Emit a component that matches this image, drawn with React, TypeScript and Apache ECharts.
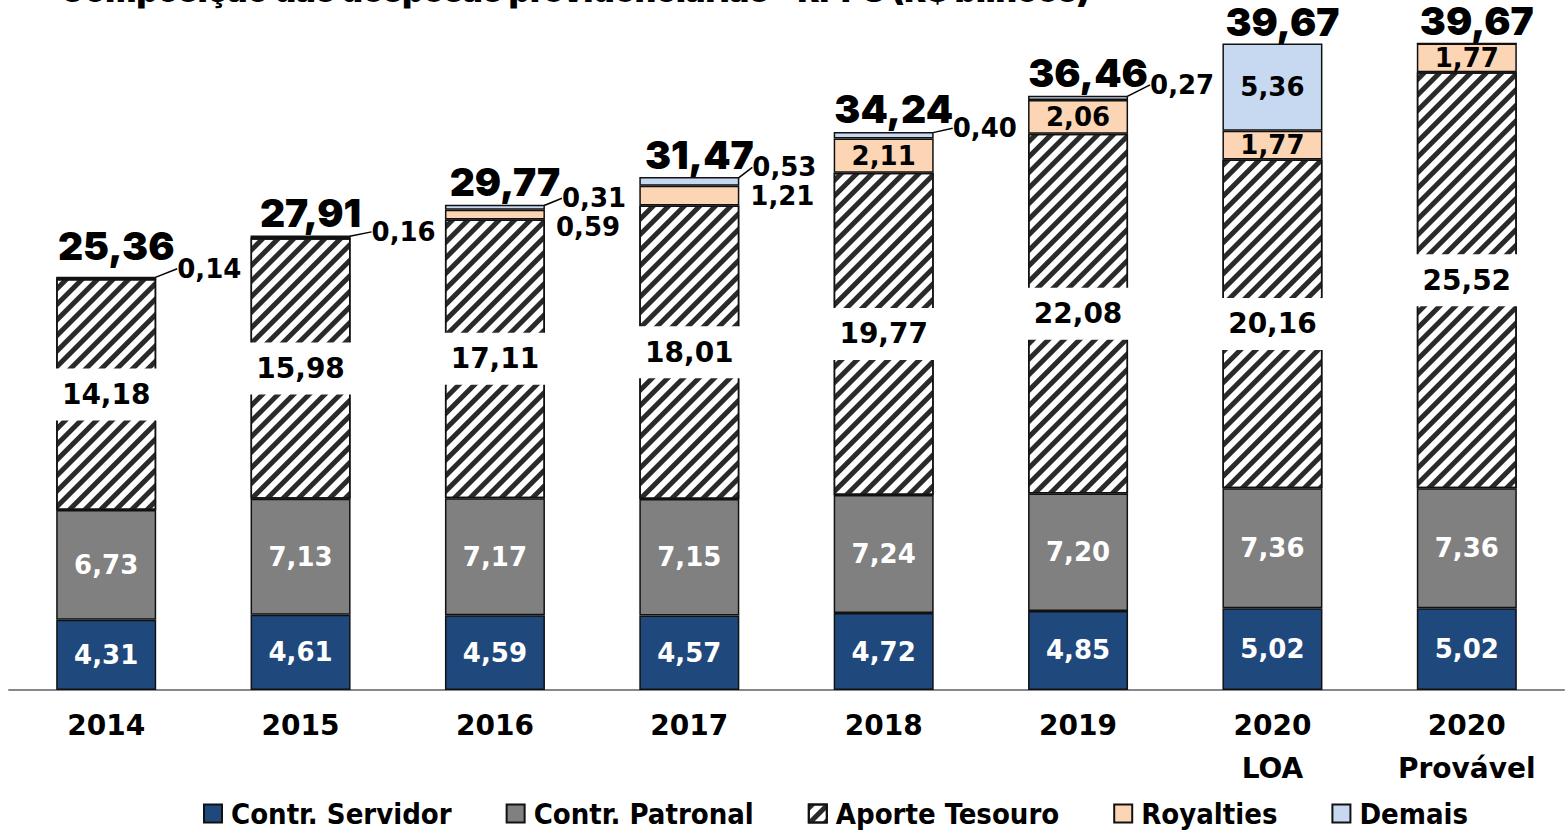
import React, { useEffect, useRef } from "react";
import * as echarts from "echarts";

const categories = ["2014", "2015", "2016", "2017", "2018", "2019", "2020\nLOA", "2020\nProvável"];
const servidor = [4.31, 4.61, 4.59, 4.57, 4.72, 4.85, 5.02, 5.02];
const patronal = [6.73, 7.13, 7.17, 7.15, 7.24, 7.2, 7.36, 7.36];
const aporte = [14.18, 15.98, 17.11, 18.01, 19.77, 22.08, 20.16, 25.52];
const royalties = [0, 0, 0.59, 1.21, 2.11, 2.06, 1.77, 1.77];
const demais = [0.14, 0.16, 0.31, 0.53, 0.4, 0.27, 5.36, 0];
const totals = [25.36, 27.91, 29.77, 31.47, 34.24, 36.46, 39.67, 39.67];
const seriesNames = ["Contr. Servidor", "Contr. Patronal", "Aporte Tesouro", "Royalties", "Demais"];
const titleText = "Composição das despesas previdenciárias - RPPS (R$ bilhões)";

// label offsets (layout only)
const demaisOffsets: Record<number, [number, number]> = {
  0: [16, -9], 1: [16, -5], 2: [12, -9], 3: [8, -14], 4: [14, -7], 5: [17, -13],
};
const royaltiesOffsets: Record<number, [number, number]> = { 2: [6, 12], 3: [6, 0] };
const totalOffsets: Record<number, [number, number]> = { 0: [10, -8], 6: [10, 1], 7: [10, 0] };

const fmt = (v: number) => v.toFixed(2).replace(".", ",");
const NUM_FONT = "DejaVu Sans";

export default function App() {
  const ref = useRef<HTMLDivElement>(null);
  useEffect(() => {
    if (!ref.current) return;
    const chart = echarts.init(ref.current, undefined, { renderer: "svg" });
    const border = { borderColor: "#111", borderWidth: 1.5 };
    const common = {
      type: "bar" as const,
      stack: "total",
      barWidth: 100,
      barGap: "-100%",
    };
    const option: any = {
      animation: false,
      backgroundColor: "#fff",
      graphic: [
        {
          type: "text",
          left: 60,
          top: -27,
          style: {
            text: titleText,
            font: "900 33px Inter",
            fill: "#000",
          },
        },
      ],
      legend: {
        data: seriesNames,
        left: 198,
        top: 794,
        icon: "rect",
        itemWidth: 18,
        itemHeight: 18,
        itemGap: 54,
        textStyle: {
          fontFamily: "DejaVu Sans Condensed",
          fontWeight: "bold",
          fontSize: 29,
          color: "#000",
          padding: [0, 0, 0, 4],
        },
      },
      grid: { left: 9, right: 2, top: 38, bottom: 145 },
      xAxis: {
        type: "category",
        data: categories,
        axisTick: { show: false },
        axisLine: { lineStyle: { color: "#888", width: 2 } },
        axisLabel: {
          fontFamily: NUM_FONT,
          fontWeight: "bold",
          fontSize: 28,
          lineHeight: 43,
          color: "#000",
          margin: 14,
          interval: 0,
        },
      },
      yAxis: { type: "value", min: 0, max: 40, show: false, splitLine: { show: false } },
      series: [
        {
          ...common,
          name: seriesNames[0],
          data: servidor,
          itemStyle: { color: "#1F497D", ...border },
          label: {
            show: true,
            position: "inside",
            formatter: (p: any) => fmt(p.value),
            color: "#fff",
            fontFamily: NUM_FONT,
            fontWeight: "bold",
            fontSize: 26,
          },
        },
        {
          ...common,
          name: seriesNames[1],
          data: patronal,
          itemStyle: { color: "#808080", ...border },
          label: {
            show: true,
            position: "inside",
            formatter: (p: any) => fmt(p.value),
            color: "#fff",
            fontFamily: NUM_FONT,
            fontWeight: "bold",
            fontSize: 26,
          },
        },
        {
          ...common,
          name: seriesNames[2],
          data: aporte,
          itemStyle: {
            color: "#fff",
            ...border,
            decal: {
              symbol: "rect",
              symbolSize: 1,
              dashArrayX: [1, 0],
              dashArrayY: [5, 6],
              rotation: -Math.PI / 4,
              color: "#2a2a2a",
              backgroundColor: "#fff",
            },
          },
          label: {
            show: true,
            position: "inside",
            formatter: (p: any) => fmt(p.value),
            color: "#000",
            fontFamily: NUM_FONT,
            fontWeight: "bold",
            fontSize: 28,
            lineHeight: 28,
            backgroundColor: "#fff",
            width: 104,
            align: "center",
            padding: [12, 0],
          },
        },
        {
          ...common,
          name: seriesNames[3],
          data: royalties.map((v, i) => ({
            value: v,
            label:
              v === 0
                ? { show: false }
                : royaltiesOffsets[i]
                ? { show: true, position: "right", distance: 5 }
                : { show: true, position: "inside" },
          })),
          itemStyle: { color: "#FCD5B5", ...border },
          label: {
            show: true,
            position: "inside",
            formatter: (p: any) => fmt(p.value),
            color: "#000",
            fontFamily: NUM_FONT,
            fontWeight: "bold",
            fontSize: 26,
          },
          labelLayout: (p: any) => {
            const o = royaltiesOffsets[p.dataIndex];
            return o ? { dx: o[0], dy: o[1] } : {};
          },
        },
        {
          ...common,
          name: seriesNames[4],
          data: demais.map((v, i) => ({
            value: v,
            label:
              v === 0
                ? { show: false }
                : demaisOffsets[i]
                ? { show: true, position: "right", distance: 5 }
                : { show: true, position: "inside" },
            labelLine: { show: !!demaisOffsets[i] },
          })),
          itemStyle: { color: "#C6D9F1", ...border },
          label: {
            show: true,
            position: "inside",
            formatter: (p: any) => fmt(p.value),
            color: "#000",
            fontFamily: NUM_FONT,
            fontWeight: "bold",
            fontSize: 26,
          },
          labelLine: { show: true, length2: 0, lineStyle: { color: "#000", width: 1.5 } },
          labelLayout: (p: any) => {
            const o = demaisOffsets[p.dataIndex];
            return o ? { dx: o[0], dy: o[1] } : {};
          },
        },
        {
          type: "bar",
          name: "Total",
          data: totals.map((v, i) => ({
            value: v,
            label: { offset: totalOffsets[i] || [10, 0] },
          })),
          barWidth: 100,
          barGap: "-100%",
          silent: true,
          z: 1,
          itemStyle: { color: "transparent" },
          label: {
            show: true,
            position: "top",
            distance: 5,
            formatter: (p: any) => fmt(p.value),
            color: "#000",
            fontFamily: "Inter",
            fontWeight: 900,
            fontSize: 39,
            lineHeight: 36,
          },
        },
      ],
    };
    chart.setOption(option);
    return () => chart.dispose();
  }, []);
  return (
    <div
      ref={ref}
      style={{ position: "absolute", left: 0, top: 0, width: 1566, height: 835 }}
    />
  );
}
